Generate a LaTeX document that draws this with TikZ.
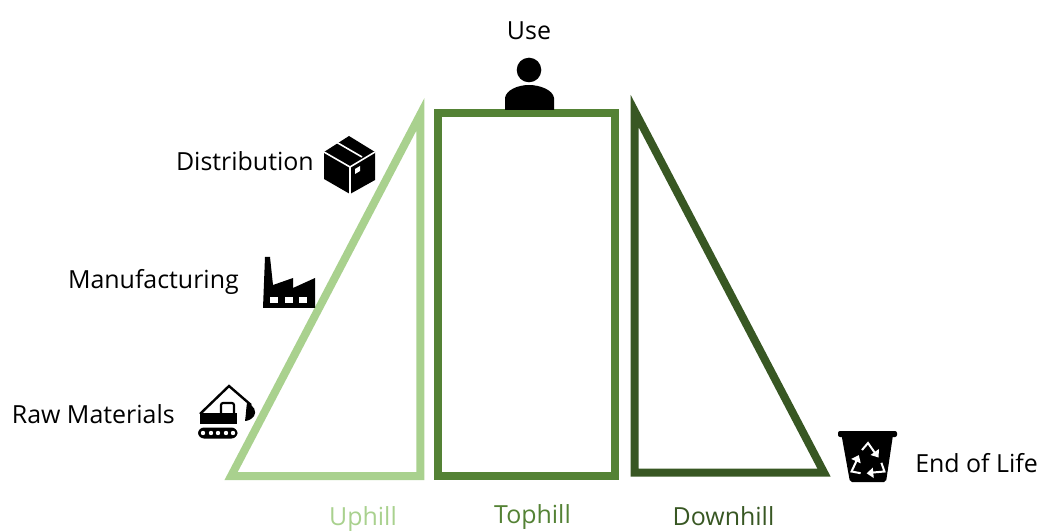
\documentclass[tikz,border=0pt]{standalone}
\usepackage{fontspec}
\setmainfont{Open Sans}
\usepackage{tikz}
\usetikzlibrary{calc}
\definecolor{uphillc}{HTML}{A9D18E}
\definecolor{tophillc}{HTML}{548235}
\definecolor{downhillc}{HTML}{385723}
\tikzset{
	lbl/.style={font=\fontsize{18.7}{22}\selectfont,inner sep=0pt,anchor=base},
	stage/.style={line width=6pt,miter limit=20},
	icon/.style={fill=black,draw=none},
	hole/.style={fill=white,draw=none},
	cutline/.style={draw=white,line width=1.2pt}
}
\begin{document}
\begin{tikzpicture}[x=0.75pt,y=-0.75pt]
		\useasboundingbox (0,0) rectangle (1040,531);
		% stages
		\draw [stage,draw=uphillc] (420.3,476) -- (420.3,114.5) -- (231.1,476) -- cycle;
		\draw [stage,draw=tophillc] (438.3,113.5) rectangle (615.3,476);
		\draw [stage,draw=downhillc] (634.7,472.7) -- (634.7,111.2) -- (824.1,472.7) -- cycle;
		% stage labels
		\node [lbl,text=uphillc] (uphill) at (363,525) {Uphill};
		\node [lbl,text=tophillc] (tophill) at (532.5,523.5) {Tophill};
		\node [lbl,text=downhillc] (downhill) at (723.5,525.5) {Downhill};
		% stop labels
		\node [lbl] (use) at (529,39.3) {Use};
		\node [lbl,anchor=base east] (distribution) at (314,170.7) {Distribution};
		\node [lbl,anchor=base east] (manufacturing) at (239,288.7) {Manufacturing};
		\node [lbl,anchor=base east] (rawmaterials) at (175,423.3) {Raw Materials};
		\node [lbl,anchor=base west] (endoflife) at (915,472.7) {End of Life};
		% person
		\fill [icon] (529,70) circle (12.3);
		\fill [icon] (505,110) -- (505,98) .. controls (506,90) and (518,85) .. (529,85) .. controls (540,85) and (553,90) .. (554,98) -- (554,110) -- cycle;
		% box
		\fill [icon] (349,136) -- (375,152) -- (375,180) -- (350,194) -- (324,179) -- (324,152) -- cycle;
		\draw [cutline] (324,152) -- (350,167) -- (375,152);
		\draw [cutline] (350,167) -- (350,195);
		\draw [cutline] (337,142.5) -- (362,157);
		\fill [hole] (355,169) -- (360,166) -- (360,171) -- (355,174) -- cycle;
		% factory
		\fill [icon] (265,257) -- (270,257) -- (273,285) -- (293,278) -- (293,288) -- (315,278) -- (315,308) -- (263,308) -- cycle;
		\foreach \x in {270,285,299}
			\fill [hole] (\x,297) rectangle (\x+7.5,303);
		% excavator
		\fill [icon,rounded corners=4.5] (198,427.5) rectangle (237.5,438.5);
		\foreach \x in {203,211,218,226,233}
			\fill [hole] (\x,433) circle (2.2);
		\fill [icon] (199.5,424) -- (199.5,413) -- (237,413) -- (237,424) -- cycle;
		\draw [line width=1.6pt,rounded corners=1.5] (221,414) -- (221,403) -- (234,403) -- (234,414);
		\draw [line width=1.8pt,line join=miter] (200,414) -- (229,386) -- (251,405);
		\fill [icon] (247,403) .. controls (254,405) and (257,412) .. (254,416) .. controls (252,419) and (248,421) .. (245,421) .. controls (246,415) and (246,409) .. (247,403) -- cycle;
		% bin
		\fill [icon,rounded corners=1.5] (838,431) rectangle (897,437);
		\fill [icon,rounded corners=1.5] (841.5,435) -- (893,435) -- (886,482) -- (850,482) -- cycle;
		\foreach \a in {0,120,240}
			\draw [white,line width=1.5pt,rotate around={\a:(868,462)}] (862,450) -- (868,443) -- (875,453);
		\foreach \a in {0,120,240}
			\fill [white,rotate around={\a:(868,462)}] (870.5,455) -- (879,449) -- (878.5,457.5) -- cycle;
\end{tikzpicture}
\end{document}
